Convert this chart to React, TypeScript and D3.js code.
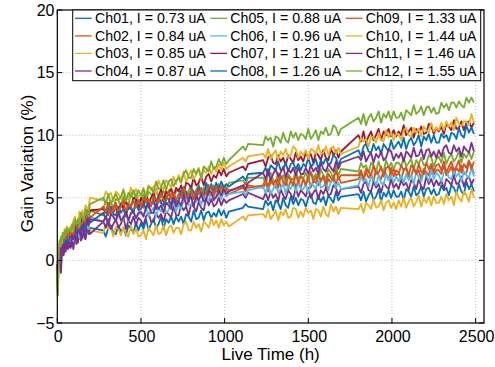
import React from 'react';
import * as d3 from 'd3';

// Live time (h), grouped in runs of readings; runs are joined by straight lines
const liveTimeSegments: number[][] = [
  [0, 3, 6, 10, 14, 18, 22, 27, 32, 38, 44, 50, 57, 64, 72],
  [80, 88, 96, 105, 114, 123, 132, 141, 150, 159, 168, 177, 186, 195],
  [275, 290, 305, 320, 335, 350, 365, 380, 395, 410, 425, 440, 455, 470, 485],
  [500, 515, 530, 545, 560, 575, 590, 605, 620, 635, 650, 665, 680, 695, 710],
  [725, 740, 755, 770, 785, 800, 815, 830, 845, 860, 875, 890, 905, 920, 935],
  [950, 965, 980, 995, 1010, 1025],
  [1110, 1125, 1140],
  [1230, 1245, 1260, 1275, 1290, 1305, 1320, 1335, 1350, 1365, 1380, 1395, 1410, 1425, 1440, 1455],
  [1470, 1485, 1500, 1515, 1530, 1545, 1560, 1575, 1590, 1605, 1620, 1635, 1650, 1665, 1680, 1695],
  [1800, 1815, 1830, 1845, 1860, 1875, 1890, 1905, 1920, 1935, 1950, 1965, 1980, 1995, 2010, 2025],
  [2040, 2055, 2070, 2085, 2100, 2115, 2130, 2145, 2160, 2175, 2190, 2205, 2220, 2235, 2250, 2265],
  [2280, 2295, 2310, 2325, 2340, 2355, 2370, 2385, 2400, 2415, 2430, 2445, 2460, 2475, 2490],
];

const channelNames = ['Ch01', 'Ch02', 'Ch03', 'Ch04', 'Ch05', 'Ch06', 'Ch07', 'Ch08', 'Ch09', 'Ch10', 'Ch11', 'Ch12'];
const currents = [0.73, 0.84, 0.85, 0.87, 0.88, 0.96, 1.21, 1.26, 1.33, 1.44, 1.46, 1.55];
const colors = ['#0072BD', '#D95319', '#EDB120', '#7E2F8E', '#77AC30', '#4DBEEE', '#A2142F', '#0072BD', '#D95319', '#EDB120', '#7E2F8E', '#77AC30'];

const xTicks = [0, 500, 1000, 1500, 2000, 2500];
const yTicks = [-5, 0, 5, 10, 15, 20];

// Gain variation (%) per channel, same grouping as liveTimeSegments
const ch01: number[][] = [
  [-0.5, -2.0, -1.2, -0.2, 0.5, 0.2, 0.9, 0.5, 1.1, 0.8, 1.4, 0.9, 1.5, 1.2, 1.7],
  [1.3, 2.1, 1.7, 2.0, 1.3, 2.2, 2.0, 1.6, 2.4, 1.9, 1.7, 2.7, 2.1, 2.6],
  [2.4, 1.9, 2.6, 2.8, 2.2, 2.1, 2.8, 2.3, 2.6, 2.0, 2.8, 2.5, 2.2, 3.0, 2.4],
  [3.0, 2.5, 3.3, 2.4, 2.9, 3.3, 2.6, 2.9, 3.5, 2.5, 3.3, 3.0, 3.5, 2.9, 3.5],
  [3.1, 3.5, 2.9, 3.7, 3.5, 3.1, 4.0, 3.3, 3.4, 4.0, 3.2, 3.8, 3.9, 3.4, 3.8],
  [3.5, 4.1, 3.6, 4.0, 3.4, 3.9],
  [4.2, 4.5, 4.3],
  [4.1, 4.8, 4.4, 4.7, 4.0, 4.8, 4.6, 4.1, 5.0, 4.4, 4.2, 5.1, 4.5, 5.0, 4.4, 4.9],
  [4.8, 4.3, 5.0, 5.3, 4.6, 4.5, 5.2, 4.7, 5.1, 4.4, 5.2, 4.9, 4.6, 5.5, 4.8, 5.1],
  [5.3, 4.8, 5.5, 4.7, 5.2, 5.5, 4.8, 5.1, 5.7, 4.7, 5.4, 5.1, 5.6, 5.0, 5.6, 5.1],
  [5.1, 5.5, 4.8, 5.7, 5.5, 5.1, 5.9, 5.2, 5.4, 5.9, 5.1, 5.7, 5.8, 5.3, 5.7, 5.2],
  [5.3, 6.0, 5.6, 5.8, 5.2, 6.0, 5.8, 5.3, 6.1, 5.5, 5.3, 6.3, 5.7, 6.1, 5.5],
];
const ch02: number[][] = [
  [-0.3, -0.8, 0.0, 0.5, 1.0, 0.6, 1.3, 0.9, 1.5, 1.2, 1.8, 1.4, 2.0, 1.7, 2.1],
  [2.1, 1.7, 2.5, 2.9, 2.3, 2.3, 3.1, 2.7, 3.1, 2.5, 3.5, 3.3, 3.1, 4.0],
  [3.6, 4.1, 3.6, 4.3, 3.8, 4.2, 3.5, 4.6, 4.1, 3.8, 4.6, 4.3, 3.8, 4.8, 4.1],
  [4.5, 4.2, 5.0, 4.2, 4.5, 4.9, 4.1, 4.9, 4.6, 5.1, 4.5, 4.6, 5.3, 5.2, 4.5],
  [4.7, 5.4, 5.1, 5.3, 4.6, 5.4, 5.3, 4.8, 5.6, 5.1, 4.9, 5.8, 5.2, 5.7, 5.1],
  [5.7, 5.2, 5.9, 5.4, 5.6, 5.3],
  [5.8, 5.5, 6.0],
  [5.8, 6.2, 5.5, 6.3, 6.1, 5.8, 6.6, 5.9, 6.0, 6.5, 5.7, 6.4, 6.5, 5.9, 6.3, 5.8],
  [6.5, 6.0, 6.7, 5.8, 6.3, 6.7, 6.0, 6.3, 6.8, 5.8, 6.5, 6.2, 6.8, 6.1, 6.7, 6.2],
  [6.5, 7.0, 6.4, 7.1, 6.6, 6.9, 6.3, 7.3, 6.8, 6.5, 7.2, 6.9, 6.4, 7.4, 6.7, 7.2],
  [7.0, 6.5, 7.2, 7.4, 6.7, 6.7, 7.4, 6.9, 7.2, 6.5, 7.3, 7.0, 6.8, 7.6, 6.9, 7.2],
  [7.2, 6.9, 7.6, 6.8, 7.1, 7.5, 6.7, 7.4, 7.1, 7.6, 6.9, 7.0, 7.8, 7.6, 6.9],
];
const ch03: number[][] = [
  [-1.0, -2.8, -1.5, -0.3, 0.6, 0.1, 0.9, 0.4, 1.2, 0.8, 1.5, 1.0, 1.7, 1.3, 1.8],
  [1.9, 1.5, 2.3, 1.5, 2.0, 2.4, 1.8, 2.2, 2.8, 1.9, 2.6, 2.4, 3.0, 2.4],
  [2.2, 2.9, 2.5, 2.6, 1.9, 2.7, 2.5, 2.0, 2.7, 2.1, 1.9, 2.8, 2.1, 2.5, 1.9],
  [2.0, 2.4, 1.7, 2.6, 2.3, 2.0, 2.8, 2.1, 2.2, 2.8, 2.0, 2.6, 2.8, 2.2, 2.6],
  [2.6, 2.1, 2.9, 3.1, 2.4, 2.4, 3.1, 2.6, 2.9, 2.3, 3.1, 2.9, 2.6, 3.4, 2.8],
  [3.2, 2.6, 3.3, 2.8, 3.1, 2.7],
  [3.5, 3.2, 3.6],
  [3.7, 3.4, 4.1, 3.3, 3.6, 4.0, 3.2, 3.9, 3.6, 4.1, 3.4, 3.5, 4.2, 4.1, 3.4, 3.9],
  [3.5, 4.2, 3.8, 4.0, 3.3, 4.1, 4.0, 3.5, 4.3, 3.7, 3.5, 4.5, 3.9, 4.3, 3.7, 4.2],
  [4.1, 4.5, 3.8, 4.6, 4.4, 4.1, 4.9, 4.2, 4.3, 4.8, 4.0, 4.6, 4.8, 4.2, 4.6, 4.1],
  [4.8, 4.3, 5.0, 4.2, 4.7, 5.0, 4.3, 4.7, 5.2, 4.3, 5.0, 4.6, 5.1, 4.4, 5.1, 4.6],
  [4.6, 5.1, 4.5, 5.3, 4.8, 5.1, 4.4, 5.5, 5.0, 4.7, 5.5, 5.2, 4.7, 5.7, 5.0],
];
const ch04: number[][] = [
  [-0.5, -1.2, -0.4, 0.2, 0.5, -0.2, -1.0, 0.4, 0.8, 0.4, 1.0, 0.7, 1.3, 0.9, 1.2],
  [1.0, 1.5, 0.9, 1.8, 1.7, 1.4, 2.3, 1.6, 1.8, 2.4, 1.7, 2.4, 2.6, 2.1],
  [3.1, 2.6, 3.3, 2.5, 2.9, 3.3, 2.6, 2.9, 3.5, 2.5, 3.2, 2.9, 3.5, 2.8, 3.4],
  [3.2, 2.8, 3.5, 3.8, 3.1, 3.1, 3.8, 3.4, 3.7, 3.1, 3.9, 3.7, 3.4, 4.3, 3.6],
  [3.6, 4.4, 4.0, 4.3, 3.6, 4.5, 4.3, 3.9, 4.7, 4.2, 4.0, 5.0, 4.4, 4.9, 4.3],
  [4.5, 5.0, 4.4, 4.9, 4.6, 4.8],
  [5.3, 5.0, 5.4],
  [4.9, 5.4, 4.8, 5.5, 5.0, 5.3, 4.7, 5.7, 5.2, 4.9, 5.6, 5.3, 4.9, 5.8, 5.1, 5.6],
  [5.4, 5.1, 5.8, 5.0, 5.4, 5.7, 4.9, 5.6, 5.3, 5.8, 5.2, 5.3, 6.0, 5.8, 5.2, 5.7],
  [5.9, 5.4, 6.1, 6.3, 5.6, 5.5, 6.3, 5.8, 6.1, 5.4, 6.2, 5.9, 5.7, 6.5, 5.8, 6.1],
  [5.7, 6.4, 6.0, 6.2, 5.6, 6.4, 6.2, 5.7, 6.5, 5.9, 5.7, 6.7, 6.1, 6.5, 5.9, 6.4],
  [6.0, 6.4, 5.7, 6.5, 6.3, 6.0, 6.8, 6.1, 6.2, 6.7, 5.9, 6.5, 6.7, 6.1, 6.5],
];
const ch05: number[][] = [
  [-1.5, -2.8, -1.0, 0.4, 1.2, 0.8, 1.6, 1.1, 1.8, 1.4, 2.1, 1.7, 2.3, 1.9, 2.4],
  [2.5, 2.3, 3.1, 2.4, 2.8, 3.2, 2.5, 3.3, 3.1, 3.7, 3.1, 3.3, 4.1, 4.0],
  [4.1, 4.8, 4.5, 4.7, 4.1, 4.9, 4.8, 4.3, 5.1, 4.6, 4.4, 5.4, 4.8, 5.3, 4.7],
  [4.9, 5.3, 4.6, 5.5, 5.3, 4.9, 5.7, 5.0, 5.1, 5.6, 4.9, 5.6, 5.7, 5.1, 5.5],
  [5.7, 5.2, 5.9, 5.1, 5.6, 6.0, 5.3, 5.6, 6.1, 5.1, 5.8, 5.5, 6.0, 5.4, 6.0],
  [5.6, 6.1, 5.5, 6.0, 5.7, 6.2],
  [6.4, 6.1, 6.6],
  [6.6, 6.1, 6.8, 7.0, 6.4, 6.3, 7.0, 6.5, 6.8, 6.1, 6.9, 6.6, 6.4, 7.2, 6.5, 6.8],
  [6.5, 7.0, 6.4, 7.1, 6.6, 6.9, 6.3, 7.3, 6.8, 6.5, 7.3, 7.0, 6.5, 7.5, 6.8, 7.3],
  [7.1, 7.8, 7.4, 7.6, 7.0, 7.8, 7.6, 7.1, 7.9, 7.3, 7.1, 8.0, 7.4, 7.8, 7.3, 7.8],
  [7.8, 7.5, 8.2, 7.5, 7.8, 8.1, 7.3, 8.0, 7.7, 8.2, 7.6, 7.7, 8.4, 8.2, 7.5, 8.1],
  [8.3, 7.8, 8.6, 7.7, 8.2, 8.5, 7.9, 8.2, 8.7, 7.8, 8.5, 8.2, 8.7, 8.1, 8.7],
];
const ch06: number[][] = [
  [-0.5, -1.0, -0.3, 0.3, 0.9, 0.5, 1.1, 0.7, 1.3, 1.0, 1.5, 1.2, 1.7, 1.4, 1.8],
  [1.5, 2.1, 1.6, 2.4, 2.0, 2.4, 1.8, 2.9, 2.5, 2.3, 3.1, 2.9, 2.5, 3.5],
  [3.1, 3.5, 2.8, 3.7, 3.5, 3.1, 3.9, 3.2, 3.3, 3.8, 3.1, 3.7, 3.9, 3.3, 3.7],
  [3.8, 3.5, 4.3, 3.5, 3.9, 4.2, 3.5, 4.2, 3.9, 4.5, 3.8, 4.0, 4.7, 4.6, 3.9],
  [4.5, 4.1, 4.8, 5.1, 4.4, 4.4, 5.1, 4.7, 5.0, 4.4, 5.2, 5.0, 4.7, 5.6, 4.9],
  [5.0, 5.4, 4.9, 5.5, 5.1, 5.3],
  [5.5, 5.2, 5.6],
  [5.9, 5.4, 6.1, 5.3, 5.7, 6.1, 5.4, 5.7, 6.2, 5.3, 6.0, 5.7, 6.2, 5.5, 6.2, 5.7],
  [5.7, 6.1, 5.4, 6.2, 6.0, 5.7, 6.5, 5.8, 5.9, 6.4, 5.6, 6.3, 6.4, 5.8, 6.2, 5.7],
  [6.0, 6.7, 6.3, 6.5, 5.9, 6.7, 6.5, 6.0, 6.8, 6.2, 6.0, 6.9, 6.4, 6.8, 6.2, 6.7],
  [6.3, 6.8, 6.2, 6.9, 6.4, 6.8, 6.1, 7.1, 6.6, 6.3, 7.0, 6.8, 6.3, 7.2, 6.5, 7.0],
  [6.8, 6.3, 7.0, 7.2, 6.6, 6.5, 7.2, 6.7, 7.0, 6.3, 7.1, 6.8, 6.6, 7.4, 6.7],
];
const ch07: number[][] = [
  [-0.5, -1.0, -0.2, 0.6, 1.2, 0.8, 1.5, 1.1, 1.8, 1.4, 2.0, 1.7, 2.2, 1.9, 2.3],
  [1.9, 2.7, 2.4, 2.8, 2.2, 3.1, 3.0, 2.6, 3.5, 3.0, 3.0, 4.0, 3.5, 4.0],
  [4.1, 3.8, 4.6, 3.8, 4.2, 4.5, 3.8, 4.5, 4.2, 4.8, 4.1, 4.3, 5.0, 4.9, 4.2],
  [5.0, 4.6, 5.3, 4.5, 5.0, 5.4, 4.7, 5.1, 5.7, 4.7, 5.5, 5.2, 5.8, 5.1, 5.8],
  [5.5, 6.0, 5.3, 6.2, 6.1, 5.8, 6.6, 6.0, 6.2, 6.7, 6.0, 6.7, 6.9, 6.3, 6.8],
  [6.6, 7.2, 6.8, 7.3, 6.7, 7.0],
  [7.5, 7.2, 7.7],
  [8.0, 7.5, 8.2, 8.4, 7.8, 7.7, 8.4, 7.9, 8.2, 7.6, 8.4, 8.1, 7.8, 8.6, 8.0, 8.3],
  [7.9, 8.6, 8.2, 8.5, 7.8, 8.6, 8.4, 8.0, 8.8, 8.2, 8.0, 8.9, 8.4, 8.8, 8.2, 8.7],
  [10.0, 9.5, 10.3, 9.4, 9.9, 10.3, 9.6, 10.0, 10.5, 9.6, 10.3, 10.0, 10.5, 9.9, 10.4, 9.9],
  [10.3, 10.0, 10.8, 10.0, 10.3, 10.6, 9.8, 10.5, 10.2, 10.7, 10.1, 10.2, 10.9, 10.7, 10.1, 10.6],
  [10.3, 10.7, 10.1, 10.9, 10.7, 10.4, 11.2, 10.5, 10.6, 11.1, 10.4, 11.0, 11.1, 10.6, 11.0],
];
const ch08: number[][] = [
  [-0.5, -1.5, -0.6, 0.3, 0.9, 0.5, 1.2, 0.8, 1.4, 1.0, 1.6, 1.3, 1.8, 1.4, 1.7],
  [2.1, 1.7, 2.5, 1.8, 2.4, 2.8, 2.2, 2.6, 3.2, 2.3, 3.2, 3.0, 3.6, 3.0],
  [3.8, 3.3, 4.1, 4.3, 3.7, 3.6, 4.3, 3.8, 4.1, 3.5, 4.3, 4.1, 3.8, 4.7, 4.0],
  [4.1, 4.6, 4.1, 4.8, 4.4, 4.7, 4.1, 5.1, 4.6, 4.4, 5.1, 4.9, 4.4, 5.4, 4.7],
  [4.8, 5.6, 5.2, 5.5, 4.8, 5.7, 5.5, 5.1, 5.9, 5.4, 5.2, 6.2, 5.6, 6.1, 5.5],
  [6.2, 5.7, 6.3, 5.8, 6.1, 5.9],
  [6.7, 6.4, 6.9],
  [7.0, 7.4, 6.8, 7.6, 7.4, 7.2, 7.9, 7.2, 7.3, 7.8, 7.1, 7.7, 7.8, 7.3, 7.7, 7.2],
  [7.7, 7.5, 8.2, 7.5, 7.7, 8.1, 7.3, 8.0, 7.7, 8.2, 7.6, 7.8, 8.4, 8.2, 7.6, 8.1],
  [8.8, 8.3, 9.1, 9.3, 8.7, 8.6, 9.3, 8.8, 9.1, 8.5, 9.3, 9.0, 8.7, 9.6, 8.9, 9.2],
  [9.5, 9.0, 9.8, 8.9, 9.5, 9.8, 9.2, 9.5, 10.0, 9.1, 9.9, 9.6, 10.1, 9.4, 10.0, 9.4],
  [9.4, 10.1, 9.8, 10.0, 9.5, 10.2, 10.1, 9.7, 10.6, 10.0, 9.8, 10.8, 10.2, 10.6, 10.1],
];
const ch09: number[][] = [
  [0.0, -0.5, 0.3, 0.8, 1.3, 0.9, 1.6, 1.2, 1.9, 1.5, 2.1, 1.7, 2.3, 1.9, 2.2],
  [2.0, 2.5, 1.9, 2.9, 2.8, 2.5, 3.4, 2.8, 3.0, 3.6, 3.0, 3.7, 3.9, 3.4],
  [4.3, 3.8, 4.6, 3.7, 4.2, 4.6, 3.9, 4.3, 4.8, 3.8, 4.5, 4.3, 4.8, 4.2, 4.8],
  [4.3, 5.0, 4.7, 4.9, 4.3, 5.1, 4.9, 4.6, 5.4, 4.8, 4.7, 5.5, 4.9, 5.4, 4.8],
  [5.3, 5.0, 5.8, 5.0, 5.3, 5.6, 4.9, 5.6, 5.3, 5.8, 5.2, 5.3, 6.0, 5.9, 5.2],
  [5.9, 5.4, 6.0, 5.5, 5.8, 5.6],
  [5.9, 6.2, 5.8],
  [6.0, 6.5, 5.9, 6.6, 6.1, 6.4, 5.8, 6.8, 6.3, 6.0, 6.7, 6.4, 6.0, 6.9, 6.2, 6.7],
  [6.5, 6.0, 6.7, 7.0, 6.3, 6.2, 6.9, 6.4, 6.7, 6.1, 6.9, 6.6, 6.4, 7.2, 6.5, 6.8],
  [6.8, 7.2, 6.5, 7.3, 7.1, 6.8, 7.6, 6.9, 7.0, 7.5, 6.7, 7.4, 7.5, 6.9, 7.3, 6.8],
  [6.9, 7.6, 7.2, 7.4, 6.8, 7.6, 7.4, 6.9, 7.7, 7.1, 6.9, 7.8, 7.3, 7.7, 7.1, 7.6],
  [7.7, 7.2, 7.9, 7.0, 7.5, 7.9, 7.2, 7.5, 8.0, 7.0, 7.7, 7.4, 8.0, 7.3, 7.9],
];
const ch10: number[][] = [
  [-0.5, -1.5, -0.2, 0.9, 1.6, 1.1, 1.9, 1.4, 2.2, 1.8, 2.5, 2.1, 2.7, 2.3, 2.6],
  [2.7, 2.3, 3.2, 3.5, 3.0, 3.0, 3.9, 3.5, 4.0, 3.4, 4.4, 4.2, 4.1, 5.0],
  [4.8, 5.5, 5.2, 5.4, 4.7, 5.5, 5.3, 4.9, 5.7, 5.1, 4.9, 5.8, 5.3, 5.7, 5.1],
  [5.2, 5.8, 5.2, 6.0, 5.6, 5.9, 5.3, 6.4, 5.9, 5.7, 6.4, 6.2, 5.8, 6.7, 6.1],
  [6.8, 6.4, 7.1, 6.3, 6.8, 7.2, 6.5, 6.9, 7.4, 6.5, 7.2, 7.0, 7.5, 6.9, 7.5],
  [7.1, 7.7, 7.2, 7.8, 7.3, 7.5],
  [8.2, 7.9, 8.3],
  [8.5, 8.2, 8.9, 8.1, 8.5, 8.8, 8.0, 8.7, 8.4, 8.9, 8.2, 8.4, 9.1, 8.9, 8.2, 8.7],
  [8.4, 8.8, 8.1, 8.9, 8.8, 8.5, 9.2, 8.5, 8.6, 9.1, 8.4, 9.0, 9.1, 8.5, 9.0, 8.5],
  [9.1, 9.8, 9.5, 9.7, 9.1, 9.9, 9.8, 9.4, 10.2, 9.6, 9.5, 10.4, 9.8, 10.2, 9.6, 10.1],
  [10.1, 9.6, 10.4, 10.6, 10.0, 9.9, 10.6, 10.2, 10.5, 9.9, 10.7, 10.4, 10.2, 11.0, 10.3, 10.6],
  [10.4, 11.0, 10.4, 11.1, 10.7, 11.0, 10.4, 11.4, 10.9, 10.7, 11.1, 11.1, 10.8, 11.7, 11.0],
];
const ch11: number[][] = [
  [-0.3, -0.8, 0.0, 0.5, 0.9, 0.4, 1.0, 0.6, 1.2, 0.8, 1.3, 1.0, 1.5, 1.1, 1.4],
  [1.2, 2.0, 1.7, 2.0, 1.5, 2.4, 2.3, 1.9, 2.8, 2.3, 2.3, 3.3, 2.8, 3.3],
  [3.1, 3.5, 2.8, 3.7, 3.5, 3.1, 3.9, 3.2, 3.4, 3.9, 3.2, 3.8, 3.9, 3.4, 3.8],
  [3.9, 3.5, 4.2, 4.5, 3.8, 3.8, 4.5, 4.1, 4.4, 3.8, 4.6, 4.4, 4.1, 5.0, 4.3],
  [4.7, 4.4, 5.2, 4.4, 4.8, 5.1, 4.3, 5.1, 4.8, 5.3, 4.7, 4.9, 5.6, 5.4, 4.8],
  [5.1, 5.6, 5.2, 5.7, 5.3, 5.5],
  [6.0, 5.7, 6.2],
  [7.0, 6.5, 7.3, 6.4, 6.9, 7.3, 6.7, 7.0, 7.5, 6.6, 7.3, 7.0, 7.4, 6.8, 7.4, 6.9],
  [6.9, 7.4, 6.9, 7.6, 7.1, 7.4, 6.9, 7.8, 7.3, 7.1, 7.7, 7.4, 7.1, 7.9, 7.3, 7.8],
  [8.3, 8.0, 8.7, 7.9, 8.3, 8.6, 7.8, 8.5, 8.2, 8.7, 8.0, 8.2, 8.9, 8.7, 8.0, 8.5],
  [8.2, 8.6, 7.9, 8.7, 8.5, 8.2, 9.0, 8.3, 8.4, 8.9, 8.1, 8.8, 8.9, 8.3, 8.7, 8.2],
  [8.8, 8.3, 9.0, 9.2, 8.6, 8.5, 9.2, 8.7, 9.0, 8.3, 9.1, 8.8, 8.6, 9.4, 8.7],
];
const ch12: number[][] = [
  [-1.0, -2.5, -0.8, 0.8, 1.6, 1.2, 1.9, 1.5, 2.2, 1.8, 2.4, 2.0, 2.6, 2.2, 2.5],
  [2.3, 2.9, 2.4, 3.3, 2.9, 3.3, 2.7, 3.8, 3.4, 3.2, 4.1, 3.9, 3.5, 4.5],
  [5.0, 4.5, 5.3, 4.5, 5.0, 5.3, 4.8, 5.1, 5.6, 4.7, 5.4, 5.1, 5.6, 5.0, 5.6],
  [5.2, 5.7, 5.0, 5.9, 5.8, 5.4, 6.3, 5.7, 5.8, 6.4, 5.6, 6.3, 6.5, 5.9, 6.4],
  [6.6, 6.2, 6.9, 7.2, 6.6, 6.6, 7.3, 6.9, 7.3, 6.6, 7.5, 7.3, 7.1, 7.9, 7.3],
  [7.5, 8.1, 7.6, 8.2, 7.7, 8.0],
  [9.1, 8.8, 9.3],
  [9.2, 9.9, 9.6, 9.8, 9.1, 9.9, 9.8, 9.4, 10.2, 9.6, 9.4, 10.3, 9.8, 10.2, 9.6, 10.1],
  [10.0, 9.7, 10.5, 9.7, 10.0, 10.4, 9.6, 10.3, 10.1, 10.6, 10.0, 10.1, 10.8, 10.6, 10.0, 10.5],
  [11.4, 10.9, 11.7, 10.8, 11.4, 11.7, 11.1, 11.4, 11.9, 11.0, 11.7, 11.4, 11.9, 11.2, 11.9, 11.4],
  [11.4, 11.8, 11.2, 12.0, 11.8, 11.6, 12.4, 11.7, 11.9, 12.3, 11.6, 12.2, 12.3, 11.8, 12.2, 11.7],
  [11.8, 12.6, 12.2, 12.5, 12.0, 12.6, 12.6, 12.2, 12.7, 12.4, 12.2, 13.0, 12.6, 13.0, 12.6],
];

const seriesValues = [ch01, ch02, ch03, ch04, ch05, ch06, ch07, ch08, ch09, ch10, ch11, ch12];

const FONT = '"Liberation Sans", Arial, Helvetica, sans-serif';

export default function App() {
  const W = 495;
  const H = 367;
  const left = 57.3, right = 484, top = 10, bottom = 323;
  const x = d3.scaleLinear().domain([0, 2550]).range([left, right]);
  const y = d3.scaleLinear().domain([-5, 20]).range([bottom, top]);
  const line = d3.line<[number, number]>().x(d => x(d[0])).y(d => y(d[1]));

  const paths = seriesValues.map(segs => {
    const pts: [number, number][] = [];
    segs.forEach((seg, i) => {
      const ts = liveTimeSegments[i] || [];
      const n = Math.min(seg.length, ts.length);
      for (let k = 0; k < n; k++) pts.push([ts[k], seg[k]]);
    });
    return line(pts) || '';
  });

  const tickLen = 5;
  const legLeft = 72.7, legTop = 10, legRight = 480.7, legBottom = 80.7;
  const rowY = [18.3, 35.9, 53.4, 71.0];
  const colX = [75, 210.3, 345.7];

  return (
    <svg width={W} height={H} style={{ position: 'absolute', left: 0, top: 0, background: '#fff' }}
      fontFamily={FONT}>
      <rect x={0} y={0} width={W} height={H} fill="#fff" />
      {xTicks.filter(t => t > 0).map(t => (
        <line key={'gx' + t} x1={x(t)} x2={x(t)} y1={top} y2={bottom} stroke="#b0b0b0" strokeWidth={0.8} strokeDasharray="1,2" />
      ))}
      {yTicks.filter(t => t > -5 && t < 20).map(t => (
        <line key={'gy' + t} x1={left} x2={right} y1={y(t)} y2={y(t)} stroke="#b0b0b0" strokeWidth={0.8} strokeDasharray="1,2" />
      ))}
      <g fill="none" strokeWidth={1.8} strokeLinejoin="round">
        {paths.map((d, i) => (
          <path key={i} d={d} stroke={colors[i]} />
        ))}
      </g>
      {xTicks.map(t => (
        <g key={'tx' + t}>
          <line x1={x(t)} x2={x(t)} y1={bottom} y2={bottom - tickLen} stroke="#000" />
          <line x1={x(t)} x2={x(t)} y1={top} y2={top + tickLen} stroke="#000" />
          <text x={x(t) + 1} y={341.5} fontSize={16} textAnchor="middle" fill="#000">{t}</text>
        </g>
      ))}
      {yTicks.map(t => (
        <g key={'ty' + t}>
          <line x1={left} x2={left + tickLen} y1={y(t)} y2={y(t)} stroke="#000" />
          <line x1={right} x2={right - tickLen} y1={y(t)} y2={y(t)} stroke="#000" />
          <text x={54.5} y={y(t) + 5.7} fontSize={16} textAnchor="end" fill="#000">{t < 0 ? '\u2212' + Math.abs(t) : t}</text>
        </g>
      ))}
      <rect x={left} y={top} width={right - left} height={bottom - top} fill="none" stroke="#000" strokeWidth={1.2} />
      <text x={(left + right) / 2} y={359.5} fontSize={17} textAnchor="middle" fill="#000">Live Time (h)</text>
      <text transform={`translate(32.5,${(top + bottom) / 2 - 3}) rotate(-90)`} fontSize={17} textAnchor="middle" fill="#000">Gain Variation (%)</text>
      <rect x={legLeft} y={legTop} width={legRight - legLeft} height={legBottom - legTop} fill="#fff" stroke="#000" strokeWidth={1} />
      {channelNames.map((name, i) => {
        const col = Math.floor(i / 4);
        const row = i % 4;
        const lx = colX[col];
        const ly = rowY[row];
        return (
          <g key={name}>
            <line x1={lx} x2={lx + 16.7} y1={ly} y2={ly} stroke={colors[i]} strokeWidth={1.3} />
            <text x={lx + 20} y={ly + 5} fontSize={14.2} fill="#000">{`${name}, I = ${currents[i].toFixed(2)} uA`}</text>
          </g>
        );
      })}
    </svg>
  );
}
